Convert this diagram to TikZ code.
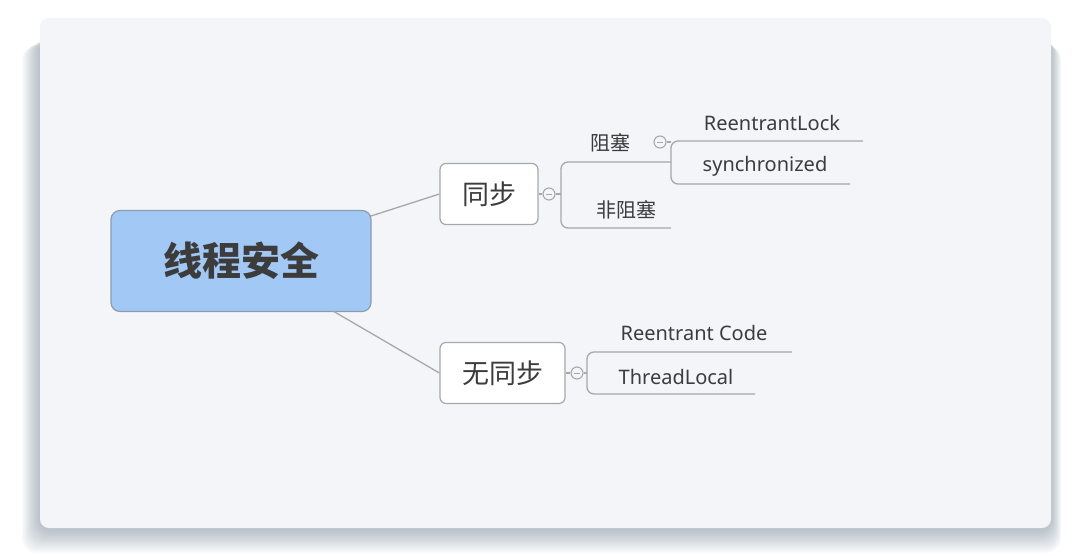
\documentclass[tikz,border=0pt]{standalone}
\usepackage{fontspec}
\setmainfont{Noto Sans}
\newfontfamily\cjk{Noto Sans CJK SC}
\definecolor{cardbg}{HTML}{F3F5F8}
\definecolor{rootfill}{HTML}{A2C9F6}
\definecolor{rootedge}{HTML}{8C9CAE}
\definecolor{linegray}{HTML}{A8A8A8}
\definecolor{txt}{HTML}{3C3C3C}
\definecolor{shadowc}{HTML}{6F8593}
\tikzset{
  rootbox/.style={draw=rootedge, line width=1.2pt, fill=rootfill, rounded corners=9pt, minimum width=260pt, minimum height=101pt, inner sep=0pt, text=txt, font=\cjk\bfseries\fontsize{39}{44}\selectfont},
  subbox/.style={draw=linegray, line width=1.2pt, fill=white, rounded corners=6pt, minimum height=61pt, inner sep=0pt, text=txt, font=\cjk\fontsize{27}{30}\selectfont},
  leafzh/.style={inner sep=0pt, text=txt, font=\cjk\fontsize{20}{22}\selectfont},
  leafen/.style={inner sep=0pt, text=txt, font=\fontsize{20}{22}\selectfont},
  conn/.style={draw=linegray, line width=1.3pt},
  bracket/.style={draw=linegray, line width=1.3pt, rounded corners=7pt},
  fold/.style={circle, draw=linegray, line width=1.1pt, fill=cardbg, minimum size=12pt, inner sep=0pt},
}
\newcommand{\foldminus}[1]{\draw[draw=linegray, line width=1pt] ([xshift=-3pt]#1.center) -- ([xshift=3pt]#1.center);}
\begin{document}
\begin{tikzpicture}[x=1pt,y=-1pt]
\useasboundingbox (0,0) rectangle (1080,555);
\fill[white] (0,0) rectangle (1080,555);
% shadow
\foreach \i in {1,...,20}{
  \fill[shadowc, opacity=0.028, rounded corners=14pt] (40-\i*0.9, 36+\i*0.5) rectangle (1051+\i*0.5, 529+\i*1.2);
}
% card
\fill[cardbg, rounded corners=9pt] (40,18) rectangle (1051,528);

% nodes
\node[rootbox] (root) at (241,261) {线程安全};
\node[subbox, minimum width=98pt] (tb) at (489,194) {同步};
\node[subbox, minimum width=125pt] (nt) at (502.5,373) {无同步};

\node[leafzh] (zs) at (610,143) {阻塞};
\node[leafzh] (fzs) at (626,210) {非阻塞};
\node[leafen] (rl) at (772,123) {ReentrantLock};
\node[leafen] (sy) at (765,166) {synchronized};
\node[leafen] (rc) at (694,333) {Reentrant Code};
\node[leafen] (tl) at (676,377) {ThreadLocal};

% connectors root -> subs
\draw[conn] (371,216) coordinate (r1) (r1) -- (tb.west);
\draw[conn] (333,311) coordinate (r2) (r2) -- (nt.west);

% fold circles
\node[fold] (f1) at (549,194) {};
\node[fold] (f2) at (660,142) {};
\node[fold] (f3) at (577,373) {};
\foldminus{f1}\foldminus{f2}\foldminus{f3}
\draw[conn] (tb.east) -- (f1.west);
\draw[conn] (nt.east) -- (f3.west);

% bracket for 同步
\coordinate (b1t) at (671,162);
\coordinate (b1b) at (671,228);
\draw[conn] (f1.east) -- (561,194);
\draw[bracket] (b1t) -| (561,194) |- (b1b);

% bracket for 阻塞
\coordinate (b2t) at (863,141);
\coordinate (b2b) at (850,184);
\draw[conn] (f2.east) -- (671,142);
\draw[bracket] (b2t) -| (671,162) |- (b2b);

% bracket for 无同步
\coordinate (b3t) at (792,352);
\coordinate (b3b) at (755,394);
\draw[conn] (f3.east) -- (587,373);
\draw[bracket] (b3t) -| (587,373) |- (b3b);
\end{tikzpicture}
\end{document}
